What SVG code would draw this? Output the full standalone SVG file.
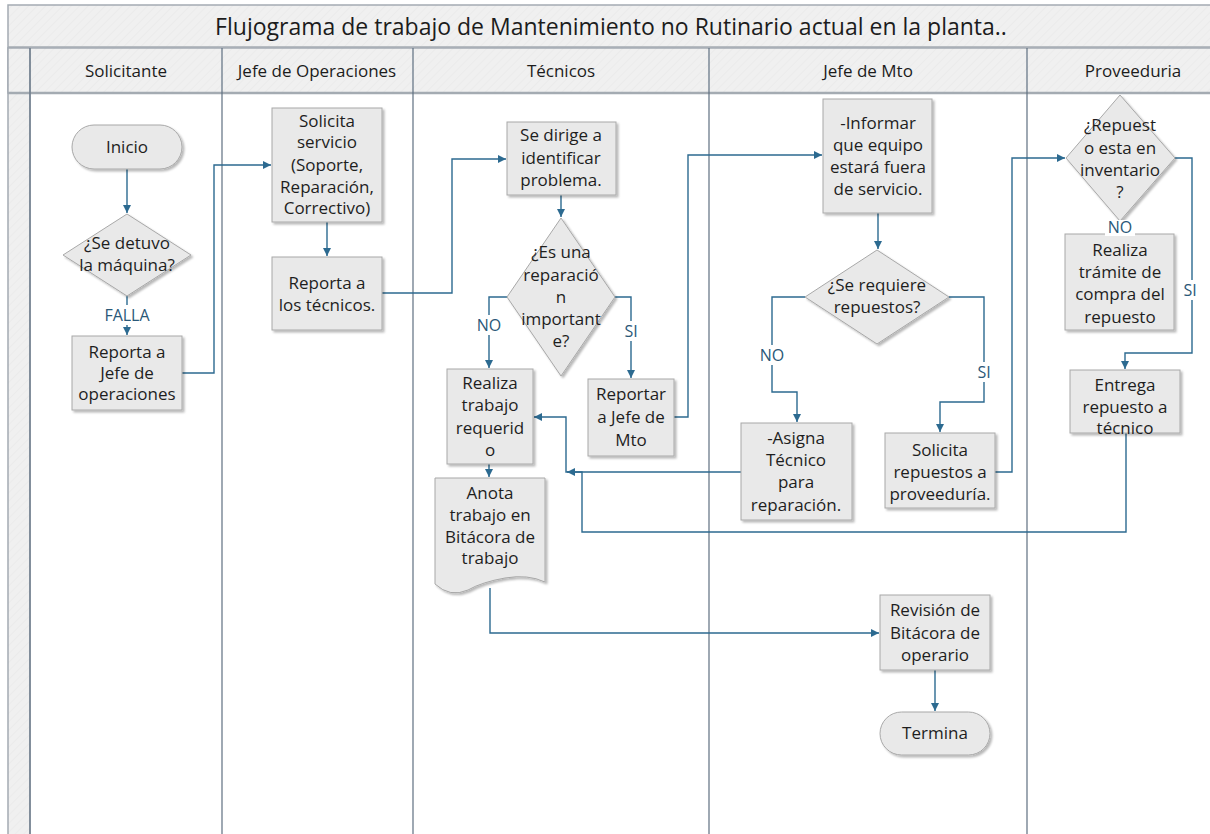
<svg xmlns="http://www.w3.org/2000/svg" width="1210" height="834" viewBox="0 0 1210 834">
  <defs>
    <marker id="arrow" markerUnits="userSpaceOnUse" markerWidth="9" markerHeight="9" refX="8" refY="4" orient="auto">
      <path d="M0,0 L8,4 L0,8 z" fill="#2c6a90"/>
    </marker>
    <filter id="shadow" x="-10%" y="-10%" width="130%" height="130%">
      <feDropShadow dx="2" dy="2" stdDeviation="1.2" flood-color="#000" flood-opacity="0.28"/>
    </filter>
    <pattern id="hatch" width="6" height="6" patternUnits="userSpaceOnUse" patternTransform="rotate(45)">
      <rect width="6" height="6" fill="#f0f0f0"/>
      <line x1="0" y1="0" x2="0" y2="6" stroke="#eaeaea" stroke-width="1.5"/>
    </pattern>
  </defs>
  <style>
    .band { fill: url(#hatch); stroke: #a4abb2; stroke-width: 1.5; }
    .lane { stroke: #5e6f80; stroke-width: 1.2; fill: none; }
    .title { font-family: "Open Sans", "Noto Sans", sans-serif; font-size: 23px; fill: #1c1c1c; text-anchor: middle; }
    .head { font-family: "Open Sans", "Noto Sans", sans-serif; font-size: 17px; fill: #1c1c1c; text-anchor: middle; }
    .box { fill: #e9e9e9; stroke: #a8a8a8; stroke-width: 1; filter: url(#shadow); }
    .txt { font-family: "Open Sans", "Noto Sans", sans-serif; font-size: 17px; fill: #1e1e1e; text-anchor: middle; }
    .conn { fill: none; stroke: #2c6a90; stroke-width: 1.4; }
    .lbl { font-family: "Open Sans", "Noto Sans", sans-serif; font-size: 16px; fill: #2a5878; text-anchor: middle; }
    .lblbg { fill: #ffffff; }
  </style>

  <rect width="1210" height="834" fill="#ffffff"/>

  <!-- pool frame: title band, header row, side strip -->
  <g id="pool">
    <rect class="band" x="8" y="5" width="1220" height="42"/>
    <rect class="band" x="8" y="48" width="1220" height="45"/>
    <rect class="band" x="8" y="48" width="22" height="800"/>
    <line x1="8" y1="93" x2="1210" y2="93" stroke="#a4abb2" stroke-width="2.5"/>
    <text class="title" x="611" y="35">Flujograma de trabajo de Mantenimiento no Rutinario actual en la planta..</text>
  </g>

  <!-- lanes -->
  <g id="lanes">
    <line class="lane" x1="30" y1="48" x2="30" y2="834"/>
    <line class="lane" x1="222" y1="48" x2="222" y2="834"/>
    <line class="lane" x1="413" y1="48" x2="413" y2="834"/>
    <line class="lane" x1="709" y1="48" x2="709" y2="834"/>
    <line class="lane" x1="1027" y1="48" x2="1027" y2="834"/>
    <text class="head" x="126" y="77">Solicitante</text>
    <text class="head" x="317" y="77">Jefe de Operaciones</text>
    <text class="head" x="561" y="77">Técnicos</text>
    <text class="head" x="868" y="77">Jefe de Mto</text>
    <text class="head" x="1133" y="77">Proveeduria</text>
  </g>

  <!-- connectors -->
  <g id="connectors">
    <path class="conn" d="M127,169 V213" marker-end="url(#arrow)"/>
    <path class="conn" d="M127,296 V335" marker-end="url(#arrow)"/>
    <path class="conn" d="M182,373 H214 V165 H271" marker-end="url(#arrow)"/>
    <path class="conn" d="M327,222 V256" marker-end="url(#arrow)"/>
    <path class="conn" d="M382,293 H452 V159 H506" marker-end="url(#arrow)"/>
    <path class="conn" d="M561,195 V217" marker-end="url(#arrow)"/>
    <path class="conn" d="M507,297 H489 V368" marker-end="url(#arrow)"/>
    <path class="conn" d="M615,297 H631 V378" marker-end="url(#arrow)"/>
    <path class="conn" d="M674,417 H688 V155 H822" marker-end="url(#arrow)"/>
    <path class="conn" d="M878,213 V249" marker-end="url(#arrow)"/>
    <path class="conn" d="M805,297 H772 V392 H797 V422" marker-end="url(#arrow)"/>
    <path class="conn" d="M949,297 H984 V402 H940 V432" marker-end="url(#arrow)"/>
    <path class="conn" d="M995,472 H1012 V158 H1065" marker-end="url(#arrow)"/>
    <path class="conn" d="M1175,158 H1192 V353 H1125 V369" marker-end="url(#arrow)"/>
    <path class="conn" d="M741,472 H566 V417 H534" marker-end="url(#arrow)"/>
    <path class="conn" d="M1126,433 V532 H582 V472 H567" marker-end="url(#arrow)"/>
    <path class="conn" d="M489,464 V477" marker-end="url(#arrow)"/>
    <path class="conn" d="M490,588 V633 H879" marker-end="url(#arrow)"/>
    <path class="conn" d="M935,670 V711" marker-end="url(#arrow)"/>
  </g>

  <!-- Solicitante -->
  <g id="n-inicio">
    <rect class="box" x="72" y="125" width="110" height="44" rx="22"/>
    <text class="txt" x="127" y="153">Inicio</text>
  </g>
  <g id="n-detuvo">
    <polygon class="box" points="127,214 191,255 127,296 63,255"/>
    <text class="txt" x="127" y="249">¿Se detuvo</text>
    <text class="txt" x="127" y="271">la máquina?</text>
  </g>
  <g id="n-reporta-jefe">
    <rect class="box" x="72" y="336" width="110" height="74"/>
    <text class="txt" x="127" y="358">Reporta a</text>
    <text class="txt" x="127" y="379">Jefe de</text>
    <text class="txt" x="127" y="400">operaciones</text>
  </g>

  <!-- Jefe de Operaciones -->
  <g id="n-solicita-servicio">
    <rect class="box" x="272" y="108" width="110" height="114"/>
    <text class="txt" x="327" y="127">Solicita</text>
    <text class="txt" x="327" y="148">servicio</text>
    <text class="txt" x="327" y="171">(Soporte,</text>
    <text class="txt" x="327" y="193">Reparación,</text>
    <text class="txt" x="327" y="214">Correctivo)</text>
  </g>
  <g id="n-reporta-tecnicos">
    <rect class="box" x="272" y="257" width="110" height="73"/>
    <text class="txt" x="327" y="289">Reporta a</text>
    <text class="txt" x="327" y="311">los técnicos.</text>
  </g>

  <!-- Técnicos -->
  <g id="n-dirige">
    <rect class="box" x="507" y="122" width="109" height="73"/>
    <text class="txt" x="561" y="141">Se dirige a</text>
    <text class="txt" x="561" y="164">identificar</text>
    <text class="txt" x="561" y="186">problema.</text>
  </g>
  <g id="n-importante">
    <polygon class="box" points="561,218 615,297 561,376 507,297"/>
    <text class="txt" x="561" y="258">¿Es una</text>
    <text class="txt" x="561" y="281">reparació</text>
    <text class="txt" x="561" y="303">n</text>
    <text class="txt" x="561" y="325">important</text>
    <text class="txt" x="561" y="347">e?</text>
  </g>
  <g id="n-realiza">
    <rect class="box" x="447" y="369" width="86" height="95"/>
    <text class="txt" x="490" y="389">Realiza</text>
    <text class="txt" x="490" y="411">trabajo</text>
    <text class="txt" x="490" y="434">requerid</text>
    <text class="txt" x="490" y="456">o</text>
  </g>
  <g id="n-reportar-mto">
    <rect class="box" x="588" y="379" width="86" height="77"/>
    <text class="txt" x="631" y="400">Reportar</text>
    <text class="txt" x="631" y="423">a Jefe de</text>
    <text class="txt" x="631" y="446">Mto</text>
  </g>
  <g id="n-anota">
    <path class="box" d="M435,478 H545 V582 Q528,574 505,578 Q482,582 468,590 Q450,598 435,584 Z"/>
    <text class="txt" x="490" y="499">Anota</text>
    <text class="txt" x="490" y="521">trabajo en</text>
    <text class="txt" x="490" y="543">Bitácora de</text>
    <text class="txt" x="490" y="564">trabajo</text>
  </g>

  <!-- Jefe de Mto -->
  <g id="n-informar">
    <rect class="box" x="823" y="99" width="109" height="114"/>
    <text class="txt" x="878" y="129">-Informar</text>
    <text class="txt" x="878" y="151">que equipo</text>
    <text class="txt" x="878" y="173">estará fuera</text>
    <text class="txt" x="878" y="195">de servicio.</text>
  </g>
  <g id="n-requiere">
    <polygon class="box" points="877,250 949,297 877,344 805,297"/>
    <text class="txt" x="877" y="291">¿Se requiere</text>
    <text class="txt" x="877" y="313">repuestos?</text>
  </g>
  <g id="n-asigna">
    <rect class="box" x="741" y="423" width="111" height="97"/>
    <text class="txt" x="796" y="444">-Asigna</text>
    <text class="txt" x="796" y="466">Técnico</text>
    <text class="txt" x="796" y="488">para</text>
    <text class="txt" x="796" y="511">reparación.</text>
  </g>
  <g id="n-solicita-repuestos">
    <rect class="box" x="885" y="433" width="110" height="75"/>
    <text class="txt" x="940" y="456">Solicita</text>
    <text class="txt" x="940" y="478">repuestos a</text>
    <text class="txt" x="940" y="500">proveeduría.</text>
  </g>
  <g id="n-revision">
    <rect class="box" x="880" y="595" width="110" height="75"/>
    <text class="txt" x="935" y="616">Revisión de</text>
    <text class="txt" x="935" y="639">Bitácora de</text>
    <text class="txt" x="935" y="661">operario</text>
  </g>
  <g id="n-termina">
    <rect class="box" x="880" y="712" width="110" height="43" rx="21.5"/>
    <text class="txt" x="935" y="739">Termina</text>
  </g>

  <!-- Proveeduria -->
  <g id="n-inventario">
    <polygon class="box" points="1120,95 1175,158 1120,221 1066,158"/>
    <text class="txt" x="1120" y="131">¿Repuest</text>
    <text class="txt" x="1120" y="154">o esta en</text>
    <text class="txt" x="1120" y="176">inventario</text>
    <text class="txt" x="1120" y="198">?</text>
  </g>
  <g id="n-tramite">
    <rect class="box" x="1065" y="234" width="109" height="96"/>
    <text class="txt" x="1120" y="256">Realiza</text>
    <text class="txt" x="1120" y="278">trámite de</text>
    <text class="txt" x="1120" y="300">compra del</text>
    <text class="txt" x="1120" y="323">repuesto</text>
  </g>
  <g id="n-entrega">
    <rect class="box" x="1070" y="370" width="110" height="63"/>
    <text class="txt" x="1125" y="391">Entrega</text>
    <text class="txt" x="1125" y="413">repuesto a</text>
    <text class="txt" x="1125" y="434">técnico</text>
  </g>

  <!-- connector labels -->
  <g id="labels">
    <rect class="lblbg" x="104" y="305" width="46" height="20"/>
    <text class="lbl" x="127" y="321">FALLA</text>
    <rect class="lblbg" x="474" y="315" width="30" height="20"/>
    <text class="lbl" x="489" y="331">NO</text>
    <rect class="lblbg" x="623" y="321" width="16" height="20"/>
    <text class="lbl" x="631" y="337">SI</text>
    <rect class="lblbg" x="757" y="345" width="30" height="20"/>
    <text class="lbl" x="772" y="361">NO</text>
    <rect class="lblbg" x="976" y="362" width="16" height="20"/>
    <text class="lbl" x="984" y="378">SI</text>
    <rect class="lblbg" x="1105" y="220" width="30" height="16"/>
    <text class="lbl" x="1120" y="233">NO</text>
    <rect class="lblbg" x="1182" y="280" width="16" height="20"/>
    <text class="lbl" x="1190" y="296">SI</text>
  </g>
</svg>
